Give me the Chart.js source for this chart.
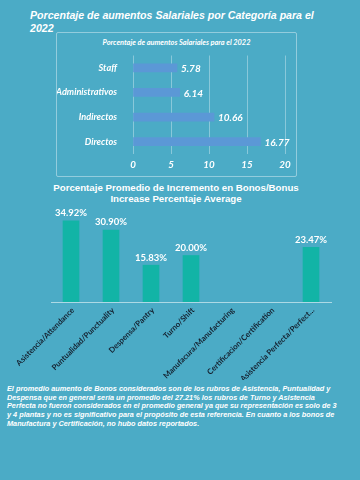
<!DOCTYPE html>
<html>
<head>
<meta charset="utf-8">
<script src="https://cdn.jsdelivr.net/npm/chart.js@4"></script>
<style>
  html,body{margin:0;padding:0;}
  body{width:360px;height:480px;background:#4babc6;position:relative;overflow:hidden;font-family:"Liberation Sans",Arial,sans-serif;}
  #mainTitle{position:absolute;left:30px;top:9px;width:320px;color:#fff;font-weight:bold;font-style:italic;font-size:10.6px;line-height:13px;}
  #box{position:absolute;left:56px;top:32px;width:239px;height:143px;border:1.5px solid rgba(255,255,255,0.4);border-radius:2px;}
  #boxTitle{position:absolute;left:0;top:5px;width:100%;text-align:center;color:#fff;font-family:Lato,sans-serif;font-weight:bold;font-style:italic;font-size:7.4px;}
  #c1wrap{position:absolute;left:0;top:9px;width:239px;height:134px;}
  #title2{position:absolute;left:0;top:182px;width:352px;text-align:center;color:#fff;font-weight:bold;font-size:9.7px;line-height:11px;}
  #c2wrap{position:absolute;left:0;top:201px;width:360px;height:179px;}
  #para{position:absolute;left:7px;top:385px;width:352px;color:#fff;font-weight:bold;font-style:italic;font-size:7.3px;line-height:8.7px;}
</style>
</head>
<body>
<div id="mainTitle">Porcentaje de aumentos Salariales por Categoría para el<br>2022</div>
<div id="box">
  <div id="boxTitle">Porcentaje de aumentos Salariales para el 2022</div>
  <div id="c1wrap"><canvas id="c1" width="239" height="134"></canvas></div>
</div>
<div id="title2">Porcentaje Promedio de Incremento en Bonos/Bonus<br>Increase Percentaje Average</div>
<div id="c2wrap"><canvas id="c2" width="360" height="179"></canvas></div>
<div id="para">El promedio aumento de Bonos considerados son de los rubros de Asistencia, Puntualidad y<br>Despensa que en general sería un promedio del 27.21% los rubros de Turno y Asistencia<br>Perfecta no fueron considerados en el promedio general ya que su representación es solo de 3<br>y 4 plantas y no es significativo para el propósito de esta referencia. En cuanto a los bonos de<br>Manufactura y Certificación, no hubo datos reportados.</div>
<script>
const salaryCategories = ["Staff", "Administrativos", "Indirectos", "Directos"];
const salaryValues = [5.78, 6.14, 10.66, 16.77];
const salaryTicks = [0, 5, 10, 15, 20];

const bonusCategories = ["Asistencia/Attendance", "Puntualidad/Punctuality", "Despensa/Pantry", "Turno/Shift", "Manufacura/Manufacturing", "Certificacion/Certification", "Asistencia Perfecta/Perfect..."];
const bonusValues = [34.92, 30.90, 15.83, 20.00, null, null, 23.47];

const valueLabels = {
  id: 'valueLabels',
  afterDatasetsDraw(chart, args, opts) {
    const ctx = chart.ctx;
    const meta = chart.getDatasetMeta(0);
    const data = chart.data.datasets[0].data;
    ctx.save();
    ctx.fillStyle = '#ffffff';
    ctx.font = opts.font;
    meta.data.forEach((el, i) => {
      const v = data[i];
      if (v === null || v === undefined) return;
      if (opts.horizontal) {
        ctx.textAlign = 'left';
        ctx.textBaseline = 'middle';
        ctx.fillText(v.toFixed(2), el.x + 4, el.y + 1);
      } else {
        ctx.textAlign = 'center';
        ctx.textBaseline = 'bottom';
        ctx.fillText(v.toFixed(2) + '%', el.x, el.y - 3);
      }
    });
    ctx.restore();
  }
};

// Draws the x-axis category labels rotated exactly 45 degrees at the scale's tick positions
const slantLabels = {
  id: 'slantLabels',
  afterDraw(chart, args, opts) {
    const ctx = chart.ctx;
    const scale = chart.scales.x;
    ctx.save();
    ctx.fillStyle = opts.color;
    ctx.font = opts.font;
    ctx.textAlign = 'right';
    ctx.textBaseline = 'middle';
    chart.data.labels.forEach((lab, i) => {
      const x = scale.getPixelForTick(i);
      ctx.save();
      ctx.translate(x + 2, scale.top + 7);
      ctx.rotate(-Math.PI / 4);
      ctx.fillText(lab, 0, 0);
      ctx.restore();
    });
    ctx.restore();
  }
};

new Chart(document.getElementById('c1'), {
  type: 'bar',
  data: {
    labels: salaryCategories,
    datasets: [{ data: salaryValues, backgroundColor: '#5b98d6', barThickness: 8 }]
  },
  options: {
    indexAxis: 'y',
    responsive: false,
    animation: false,
    layout: { padding: { top: 2, right: 11, bottom: 0, left: 0 } },
    plugins: {
      legend: { display: false },
      tooltip: { enabled: false },
      valueLabels: { horizontal: true, font: 'bold italic 10px Lato' }
    },
    scales: {
      x: {
        min: 0, max: 20,
        afterBuildTicks: s => { s.ticks = salaryTicks.map(v => ({ value: v })); },
        afterFit: s => { s.height = 22; },
        grid: { color: 'rgba(255,255,255,0.35)', drawTicks: false, lineWidth: 1 },
        border: { display: false },
        ticks: { color: '#ffffff', padding: 5, font: { family: 'Lato', size: 9.8, weight: 'bold', style: 'italic' } }
      },
      y: {
        afterFit: s => { s.width = 76; },
        grid: { display: false },
        border: { display: false },
        ticks: { color: '#ffffff', padding: 8, font: { family: 'Lato', size: 9.2, weight: 'bold', style: 'italic' } }
      }
    }
  },
  plugins: [valueLabels]
});

new Chart(document.getElementById('c2'), {
  type: 'bar',
  data: {
    labels: bonusCategories,
    datasets: [{ data: bonusValues, backgroundColor: '#12b4a6', barThickness: 16 }]
  },
  options: {
    responsive: false,
    animation: false,
    layout: { padding: { top: 8, right: 29, bottom: 0, left: 0 } },
    plugins: {
      legend: { display: false },
      tooltip: { enabled: false },
      valueLabels: { horizontal: false, font: 'bold 9.5px Lato' },
      slantLabels: { color: '#14202e', font: 'bold 7.8px Lato' }
    },
    scales: {
      x: {
        afterFit: s => { s.height = 78; },
        grid: { display: false },
        border: { display: true, color: 'rgba(255,255,255,0.55)', width: 1 },
        ticks: { display: false }
      },
      y: {
        display: false,
        min: 0, max: 40,
        afterFit: s => { s.width = 51; }
      }
    }
  },
  plugins: [valueLabels, slantLabels]
});
</script>
</body>
</html>
